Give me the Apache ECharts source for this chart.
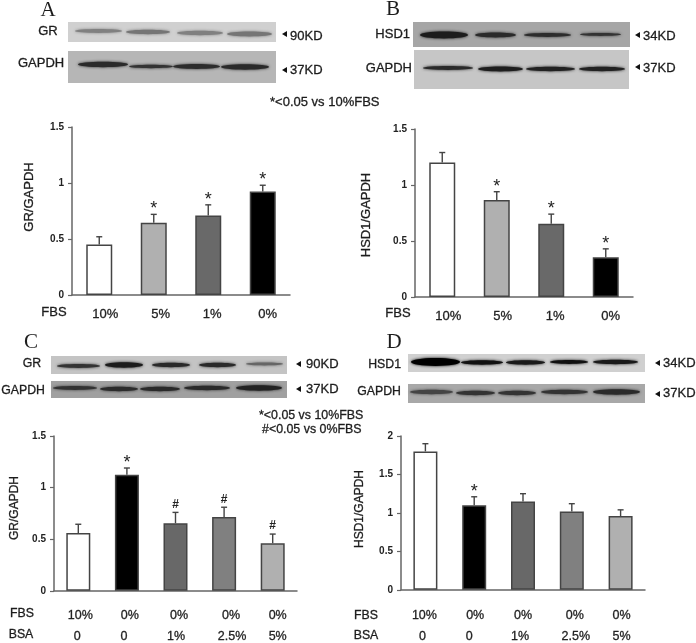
<!DOCTYPE html>
<html><head><meta charset="utf-8">
<style>html,body{margin:0;padding:0;background:#fff}#c{width:696px;height:643px}</style>
<script src="https://cdn.jsdelivr.net/npm/echarts@6/dist/echarts.min.js"></script>
</head><body><div id="c"></div>
<script>
// ---- data ----
const fbsA = ['10%','5%','1%','0%'];
const valuesA = [0.45,0.645,0.71,0.925];
const topsA = [0.52,0.72,0.805,0.98];
const marksA = ['','*','*','*'];
const valuesB = [1.2,0.865,0.655,0.355];
const topsB = [1.29,0.94,0.74,0.43];
const marksB = ['','*','*','*'];
const fbsC = ['10%','0%','0%','0%','0%'];
const bsaC = ['0','0','1%','2.5%','5%'];
const valuesC = [0.56,1.125,0.655,0.715,0.46];
const topsC = [0.645,1.19,0.76,0.81,0.55];
const marksC = ['','*','#','#','#'];
const valuesD = [1.8,1.1,1.15,1.02,0.96];
const topsD = [1.9,1.21,1.25,1.12,1.04];
const marksD = ['','*','','',''];
const yTicksMaxABC = 1.5, yMaxD = 2, yStep = 0.5;
const shadesA = ['#ffffff','#b0b0b0','#696969','#000000'];
const shadesC = ['#ffffff','#000000','#686868','#808080','#b0b0b0'];
const shadesD = ['#ffffff','#000000','#686868','#808080','#b0b0b0'];

// ---- panels ----
const panels = [
 {cats:fbsA, vals:valuesA, tops:topsA, marks:marksA, shades:shadesA, max:yTicksMaxABC, left:72, top:127, w:218, h:168, bw:26, off:[6,7,4,5], margin:11},
 {cats:fbsA, vals:valuesB, tops:topsB, marks:marksB, shades:shadesA, max:yTicksMaxABC, left:415, top:129, w:218, h:168, bw:26, off:[6,6,4,5], margin:11},
 {cats:fbsC, rows:bsaC, vals:valuesC, tops:topsC, marks:marksC, shades:shadesC, max:yTicksMaxABC, left:54, top:436, w:243, h:162, bw:24, off:[2,3,3.5,7,5], off2:[-1,-3,0.5,8,5], margin:14},
 {cats:fbsC, rows:bsaC, vals:valuesD, tops:topsD, marks:marksD, shades:shadesD, max:yMaxD, left:401, top:436, w:244, h:162, bw:24, off:[-1,1,0,3,1], off2:[-3,-5,-3,4,1], margin:15}
];
const font = '"Liberation Sans",Arial,sans-serif';
const pad = d => d>=0 ? [0,0,0,2*d] : [0,-2*d,0,0];
const grid=[],xAxis=[],yAxis=[],series=[];
panels.forEach((p,i)=>{
  const rich={};
  const lab={fontFamily:font,color:'#222',textBorderColor:'#222',textBorderWidth:0.3};
  p.cats.forEach((c,k)=>{
    rich['f'+k]={...lab,fontSize:p.rows?12.5:13,lineHeight:p.rows?21:16,padding:pad(p.off[k])};
    if(p.rows) rich['b'+k]={...lab,fontSize:12.5,lineHeight:21,padding:pad(p.off2[k])};
  });
  grid.push({left:p.left,top:p.top,width:p.w,height:p.h,containLabel:false});
  xAxis.push({type:'category',gridIndex:i,data:p.cats.map((c,k)=>p.rows?c+'|'+p.rows[k]:c),
    axisTick:{show:false},axisLine:{lineStyle:{color:'#666',width:1.5}},
    axisLabel:{interval:0,margin:p.margin,rich,
      formatter:(v,k)=>{const t=v.split('|');return '{f'+k+'|'+t[0]+'}'+(t[1]!==undefined?'\n{b'+k+'|'+t[1]+'}':'');}}});
  yAxis.push({type:'value',gridIndex:i,min:0,max:p.max,interval:yStep,splitLine:{show:false},
    axisLine:{show:true,lineStyle:{color:'#666',width:1.5}},
    axisTick:{show:true,length:4,lineStyle:{color:'#666',width:1.2}},
    axisLabel:{margin:8,color:'#222',fontFamily:font,fontWeight:'bold',fontSize:10}});
  series.push({type:'bar',xAxisIndex:i,yAxisIndex:i,barWidth:p.bw,z:3,silent:true,
    data:p.vals.map((v,k)=>({value:v,itemStyle:{color:p.shades[k],borderColor:'#444',borderWidth:1.5}}))});
  series.push({type:'custom',xAxisIndex:i,yAxisIndex:i,z:2,silent:true,
    data:p.vals.map((v,k)=>[k,v,p.tops[k]]),
    encode:{x:0,y:[1,2]},
    renderItem:(params,api)=>{
      const a=api.coord([api.value(0),api.value(1)]), b=api.coord([api.value(0),api.value(2)]);
      const mk=p.marks[params.dataIndex];
      const st={stroke:'#444',lineWidth:1.4};
      const ch=[
        {type:'line',shape:{x1:a[0],y1:a[1],x2:a[0],y2:b[1]},style:st},
        {type:'line',shape:{x1:a[0]-3,y1:b[1],x2:a[0]+3,y2:b[1]},style:st}];
      if(mk) ch.push({type:'text',style:{text:mk,x:a[0],y:mk==='*'?b[1]+4:b[1]-2,fill:'#222',
        font:(mk==='*'?'18px ':'bold 12px ')+font,align:'center',verticalAlign:'bottom'}});
      return {type:'group',children:ch};
    }});
});

// ---- decoration: text, blots ----
const g=[];
function txt(s,x,y,o={}){g.push({type:'text',x,y,rotation:o.rot||0,z:10,style:{text:s,fill:o.fill||'#1c1c1c',
  stroke:o.bare?null:'#1c1c1c',lineWidth:o.bare?0:0.3,
  font:(o.font||('13px '+font)),align:o.align||'left',verticalAlign:'middle'}});}
function tri(x,y){g.push({type:'polygon',z:10,shape:{points:[[x,y],[x+5,y-3],[x+5,y+3]]},style:{fill:'#111'}});}
function blot(x,y,w,h,bg,bands){
  g.push({type:'rect',z:5,shape:{x,y,width:w,height:h},style:{fill:bg}});
  bands.forEach(b=>g.push({type:'ellipse',z:6,shape:{cx:(b[0]+b[1])/2,cy:b[2],rx:(b[1]-b[0])/2,ry:b[3]/2+0.4},
    style:{fill:b[4],shadowBlur:3,shadowColor:b[4]}}));
}
// A
blot(68,22,208,20,'#d0d0d0',[[75,122,31,3,'#808080'],[126,170,32,3.5,'#757575'],[177,223,33,3.5,'#808080'],[227,272,34,4,'#757575']]);
blot(68,51,208,32,'#b6b6b6',[[78,128,64.5,4.5,'#2a2a2a'],[129,173,66.5,2.5,'#333'],[173,220,66.5,4,'#2c2c2c'],[221,269,67,4.5,'#2a2a2a']]);
// B
blot(413,22,217,25,'#a6a6a6',[[420,468,35,6,'#1c1c1c'],[475,516,35,4,'#2a2a2a'],[524,571,35,3,'#2c2c2c'],[580,621,34.5,2,'#333']]);
blot(414,50,215,39,'#c6c6c6',[[423,473,68,3,'#2a2a2a'],[478,523,69,4,'#1e1e1e'],[526,575,69,3.5,'#222'],[579,625,69,3.5,'#222']]);
// C
blot(51,356,236,18,'#c4c4c4',[[57,100,366,3,'#333'],[105,143,365,4.5,'#1c1c1c'],[152,190,365,3.5,'#2a2a2a'],[199,236,365,3.5,'#2a2a2a'],[246,283,364,2,'#666']]);
blot(51,381,236,17,'#a0a0a0',[[53,97,388,3,'#333'],[100,138,389,3.5,'#2c2c2c'],[140,180,389,3.5,'#2a2a2a'],[184,230,388,3.5,'#2a2a2a'],[236,282,388,4.5,'#222']]);
// D
blot(408,354,237,18,'#d0d0d0',[[411,460,362,7,'#000'],[461,503,362.5,3.5,'#111'],[506,545,362.5,3.5,'#1a1a1a'],[550,588,362,3,'#111'],[593,638,362,3.5,'#1a1a1a']]);
blot(408,384,237,19,'#a8a8a8',[[410,453,392,3.5,'#444'],[456,495,393,3.5,'#333'],[498,536,393,3.5,'#333'],[541,588,392,3.5,'#333'],[593,640,392,4.5,'#2a2a2a']]);

const serif='"Liberation Serif","Times New Roman",serif';
txt('A',48,10,{font:'21px '+serif,align:'center',bare:1});
txt('B',393,9,{font:'21px '+serif,align:'center',bare:1});
txt('C',31,342,{font:'21px '+serif,align:'center',bare:1});
txt('D',394,342,{font:'21px '+serif,align:'center',bare:1});
txt('GR',48,31,{align:'center'}); txt('GAPDH',18,63);
txt('HSD1',410,34,{align:'right'}); txt('GAPDH',412,68,{align:'right'});
const f12='12.3px '+font;
txt('GR',32,364,{align:'center',font:f12}); txt('GAPDH',45,391,{align:'right',font:f12});
txt('HSD1',401,365,{align:'right',font:f12}); txt('GAPDH',401,392,{align:'right',font:f12});
[[282,34,'90KD',290,36],[282,70,'37KD',290,70],[635,35,'34KD',643,36],[635,67,'37KD',643,68],
 [296,364,'90KD',306,364],[296,389,'37KD',306,389],[655,363,'34KD',663,363],[655,394,'37KD',663,393]]
 .forEach(a=>{tri(a[0],a[1]);txt(a[2],a[3],a[4]);});
txt('*<0.05 vs 10%FBS',270,102,{font:'13px '+font});
txt('*<0.05 vs 10%FBS',259,416,{font:'12.4px '+font});
txt('#<0.05 vs 0%FBS',262,430,{font:'12.4px '+font});
const R=Math.PI/2;
txt('GR/GAPDH',29,197,{rot:R,align:'center'});
txt('HSD1/GAPDH',366,215,{rot:R,align:'center'});
txt('GR/GAPDH',15,508,{rot:R,align:'center',font:'12px '+font});
txt('HSD1/GAPDH',360,509,{rot:R,align:'center',font:'12px '+font});
txt('FBS',54,312,{align:'center'}); txt('FBS',398,313,{align:'center'});
txt('FBS',22,614,{align:'center',font:f12}); txt('BSA',21,635,{align:'center',font:f12});
txt('FBS',366,616,{align:'center',font:f12}); txt('BSA',366,636,{align:'center',font:f12});

const chart=echarts.init(document.getElementById('c'),null,{renderer:'canvas'});
chart.setOption({animation:false,backgroundColor:'#fff',grid,xAxis,yAxis,series,graphic:{elements:g}});
</script></body></html>
